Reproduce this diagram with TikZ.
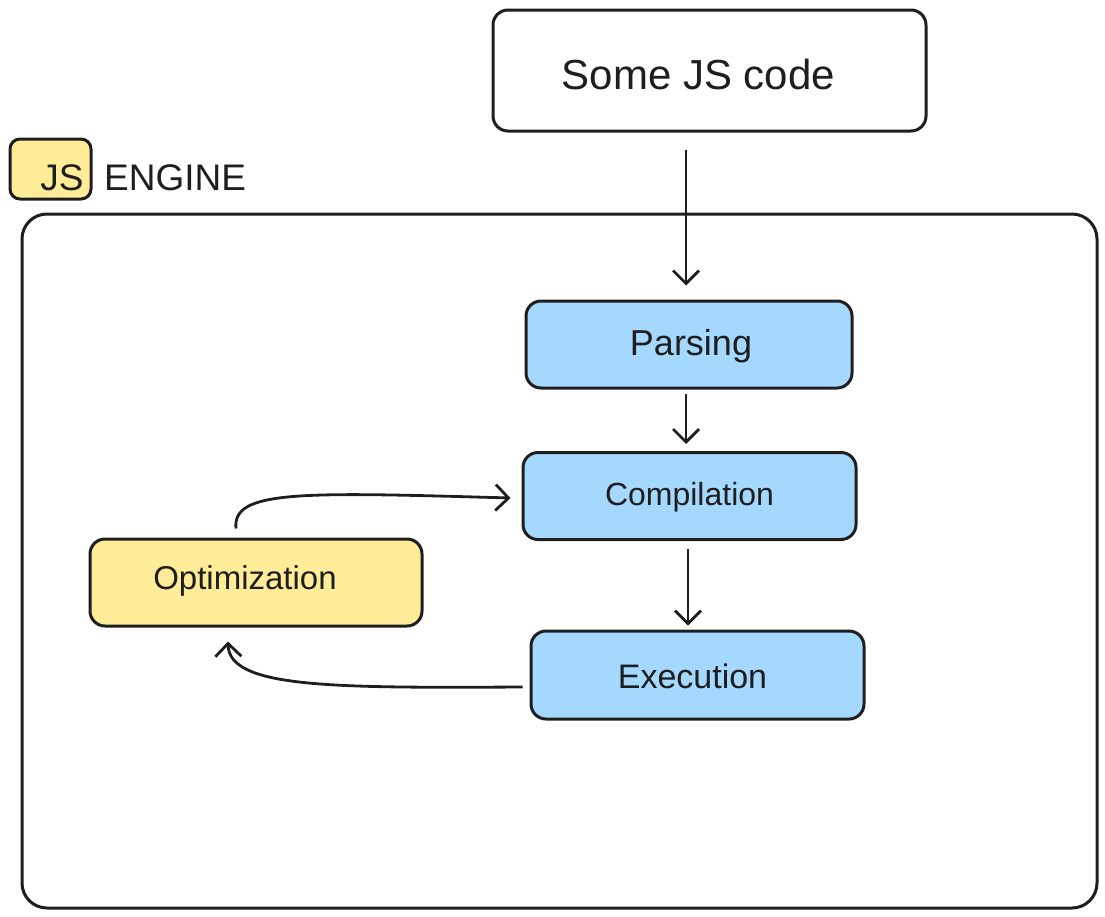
\documentclass[tikz,border=0pt]{standalone}
\usepackage{fontspec}
\setmainfont{Liberation Sans}
\usetikzlibrary{arrows.meta,calc}
\definecolor{ink}{HTML}{1E1E1E}
\definecolor{bluefill}{HTML}{A5D8FF}
\definecolor{yellowfill}{HTML}{FFEC99}
\tikzset{
  box/.style={draw=ink, line width=3pt, rounded corners=15pt, inner sep=0pt, text=ink},
  bluebox/.style={box, fill=bluefill, minimum width=326pt, minimum height=87pt},
  arr/.style={draw=ink, line width=2.8pt, -{Straight Barb[length=13pt,width=26pt]}},
  lbl/.style={text=ink, inner sep=0pt}
}
\begin{document}
\begin{tikzpicture}[x=1pt,y=-1pt]
\useasboundingbox (0,0) rectangle (1105,916);
% container
\node[box, rounded corners=25pt, minimum width=1075pt, minimum height=694pt] (engine) at (559.5,561) {};
% title tag
\node[box, fill=yellowfill, rounded corners=10pt, minimum width=81pt, minimum height=60pt] (jsbox) at (50.5,169) {};
\node[lbl, font=\fontsize{37}{40}\selectfont] (jstext) at (62,178) {JS};
\node[lbl, anchor=west, font=\fontsize{37}{40}\selectfont] (enginetext) at (104,178) {ENGINE};
% nodes
\node[box, fill=white, minimum width=433pt, minimum height=121pt,
  label={[lbl, font=\fontsize{42}{46}\selectfont, xshift=-11pt, yshift=-4pt]center:Some JS code}] (code) at (709.5,70.5) {};
\node[bluebox, minimum width=326pt,
  label={[lbl, font=\fontsize{36}{40}\selectfont, xshift=2pt, yshift=-2pt]center:Parsing}] (parse) at (689,344.5) {};
\node[bluebox, minimum width=333pt,
  label={[lbl, font=\fontsize{32}{36}\selectfont, xshift=0pt, yshift=-1pt]center:Compilation}] (comp) at (689.5,496) {};
\node[bluebox, minimum width=333pt, minimum height=88pt,
  label={[lbl, font=\fontsize{34}{38}\selectfont, xshift=-5pt, yshift=-1pt]center:Execution}] (exe) at (697.5,675) {};
\node[box, fill=yellowfill, minimum width=332pt, minimum height=87pt,
  label={[lbl, font=\fontsize{33}{36}\selectfont, xshift=-11pt, yshift=2pt]center:Optimization}] (opt) at (256,582.5) {};
% connectors
\draw[arr, shorten <=17pt, shorten >=14pt] ([xshift=-3pt]parse.north |- code.south) -- ([xshift=-3pt]parse.north);
\draw[arr, shorten <=4pt, shorten >=7pt] ([xshift=-3pt]parse.south) -- ([xshift=-3pt]parse.south |- comp.north);
\draw[arr, shorten <=8pt, shorten >=4pt] ([xshift=-1.5pt]comp.south) -- ([xshift=-1.5pt]comp.south |- exe.north);
\draw[arr] ($(exe.west)+(-7,12)$) .. controls (330,688) and (229,688) .. ($(opt.south)+(-28,14)$);
\draw[arr] ($(opt.north)+(-20,-9)$) .. controls (232,490) and (300,492) .. ($(comp.west)+(-11,2)$);
\end{tikzpicture}
\end{document}
